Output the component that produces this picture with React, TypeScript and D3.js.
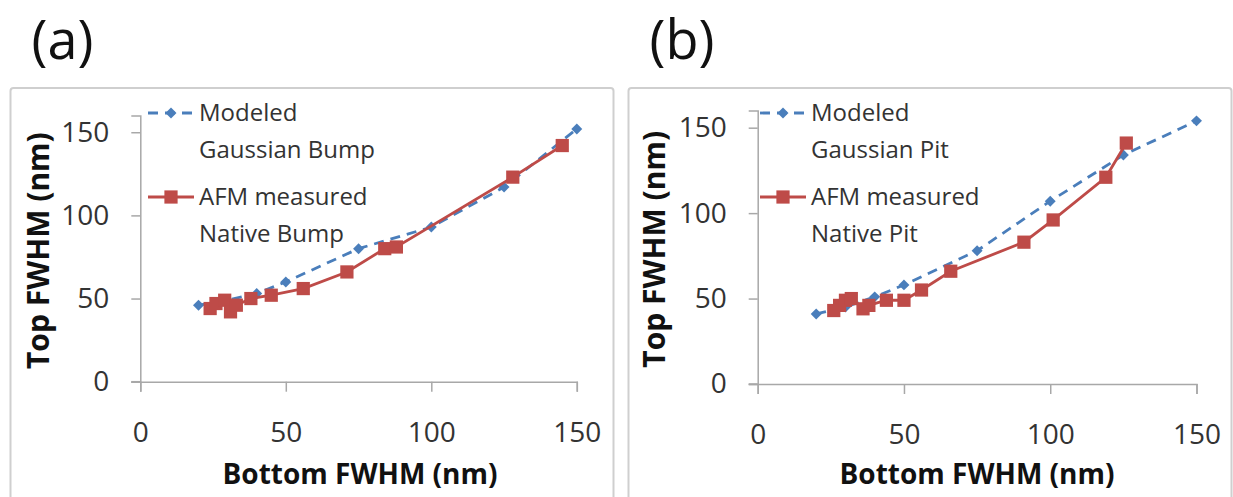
import React, { useEffect, useRef } from "react";
import * as d3 from "d3";

// panel (a): bump
const modeledBumpX = [20, 30, 40, 50, 75, 100, 125, 150];
const modeledBumpY = [46, 49, 53, 60, 80, 93, 117, 152];
const afmBumpX = [24, 26, 29, 31, 33, 38, 45, 56, 71, 84, 88, 128, 145];
const afmBumpY = [44, 47, 49, 42, 46, 50, 52, 56, 66, 80, 81, 123, 142];

// panel (b): pit
const modeledPitX = [20, 30, 40, 50, 75, 100, 125, 150];
const modeledPitY = [41, 45, 51, 58, 78, 107, 134, 154];
const afmPitX = [26, 28, 30, 32, 36, 38, 44, 50, 56, 66, 91, 101, 119, 126];
const afmPitY = [43, 46, 49, 50, 44, 46, 49, 49, 55, 66, 83, 96, 121, 141];

const tickValues = [0, 50, 100, 150];

const BLUE = "#4A7EBB";
const RED = "#BE4B48";
const AXIS = "#A8A8A8";
const FONT = "'Open Sans', sans-serif";

interface Panel {
  tag: string;
  frameX: number;
  x0: number;
  x1: number;
  y0: number;
  y1: number;
  modeled: [number, number][];
  afm: [number, number][];
  legend: string[];
  legX: number;
  xTitleX: number;
  yTitleX: number;
}

const zip = (a: number[], b: number[]) => a.map((v, i) => [v, b[i]] as [number, number]);

const panels: Panel[] = [
  {
    tag: "(a)",
    frameX: 10.5,
    x0: 140.3,
    x1: 576.8,
    y0: 381.7,
    y1: 115.6,
    modeled: zip(modeledBumpX, modeledBumpY),
    afm: zip(afmBumpX, afmBumpY),
    legend: ["Modeled", "Gaussian Bump", "AFM measured", "Native Bump"],
    legX: 148,
    xTitleX: 360,
    yTitleX: 49,
  },
  {
    tag: "(b)",
    frameX: 628.5,
    x0: 757.7,
    x1: 1196.5,
    y0: 384,
    y1: 110.6,
    modeled: zip(modeledPitX, modeledPitY),
    afm: zip(afmPitX, afmPitY),
    legend: ["Modeled", "Gaussian Pit", "AFM measured", "Native Pit"],
    legX: 760,
    xTitleX: 977,
    yTitleX: 665,
  },
];

const App: React.FC = () => {
  const ref = useRef<SVGSVGElement>(null);

  useEffect(() => {
    const svg = d3.select(ref.current);
    svg.selectAll("*").remove();

    svg.append("rect").attr("width", 1233).attr("height", 497).attr("fill", "#fff");

    panels.forEach((p) => {
      const x = d3.scaleLinear().domain([0, 150]).range([p.x0, p.x1]);
      const y = d3.scaleLinear().domain([0, 160]).range([p.y0, p.y1]);

      // frame
      svg
        .append("rect")
        .attr("x", p.frameX)
        .attr("y", 88)
        .attr("width", 603)
        .attr("height", 430)
        .attr("rx", 3)
        .attr("fill", "none")
        .attr("stroke", "#CFCFCF")
        .attr("stroke-width", 2);

      svg
        .append("text")
        .attr("x", p.frameX + 21)
        .attr("y", 59)
        .attr("font-family", FONT)
        .attr("font-size", 54)
        .attr("fill", "#111")
        .text(p.tag);

      const g = svg.append("g");

      // y axis
      const yAxis = g
        .append("g")
        .attr("transform", `translate(${p.x0},0)`)
        .call(d3.axisLeft(y).tickValues(tickValues).tickSize(9).tickPadding(22));
      // x axis
      const xAxis = g
        .append("g")
        .attr("transform", `translate(0,${p.y0})`)
        .call(d3.axisBottom(x).tickValues(tickValues).tickSize(10).tickPadding(30));

      [yAxis, xAxis].forEach((ax) => {
        ax.select(".domain").attr("stroke", AXIS).attr("stroke-width", 1.5);
        ax.selectAll(".tick line").attr("stroke", AXIS).attr("stroke-width", 1.5);
        ax.selectAll(".tick text")
          .attr("font-family", FONT)
          .attr("font-size", 28)
          .attr("fill", "#333");
      });
      // extend x axis line to the left like the original
      g.append("line")
        .attr("x1", p.x0 - 9)
        .attr("x2", p.x0)
        .attr("y1", p.y0)
        .attr("y2", p.y0)
        .attr("stroke", AXIS)
        .attr("stroke-width", 1.5);

      // titles
      g.append("text")
        .attr("x", p.xTitleX)
        .attr("y", 484)
        .attr("text-anchor", "middle")
        .attr("font-family", FONT)
        .attr("font-weight", "bold")
        .attr("font-size", 28)
        .attr("fill", "#111")
        .text("Bottom FWHM (nm)");
      g.append("text")
        .attr("transform", `translate(${p.yTitleX},${(p.y0 + p.y1) / 2 + 2}) rotate(-90)`)
        .attr("text-anchor", "middle")
        .attr("font-family", FONT)
        .attr("font-weight", "bold")
        .attr("font-size", 30)
        .attr("fill", "#111")
        .text("Top FWHM (nm)");

      const line = d3
        .line<[number, number]>()
        .x((d) => x(d[0]))
        .y((d) => y(d[1]));

      const diamond = d3.symbol().type(d3.symbolSquare).size(60);
      const square = d3.symbol().type(d3.symbolSquare).size(175);

      // modeled
      g.append("path")
        .attr("d", line(p.modeled))
        .attr("fill", "none")
        .attr("stroke", BLUE)
        .attr("stroke-width", 2.8)
        .attr("stroke-dasharray", "10,7");
      g.selectAll(".dia")
        .data(p.modeled)
        .enter()
        .append("path")
        .attr("d", diamond)
        .attr("transform", (d) => `translate(${x(d[0])},${y(d[1])}) rotate(45)`)
        .attr("fill", BLUE);

      // measured
      g.append("path")
        .attr("d", line(p.afm))
        .attr("fill", "none")
        .attr("stroke", RED)
        .attr("stroke-width", 2.8);
      g.selectAll(".sq")
        .data(p.afm)
        .enter()
        .append("path")
        .attr("d", square)
        .attr("transform", (d) => `translate(${x(d[0])},${y(d[1])})`)
        .attr("fill", RED);

      // legend
      const lx0 = p.legX;
      const lx1 = p.legX + 46;
      const lmid = (lx0 + lx1) / 2;
      g.append("line")
        .attr("x1", lx0)
        .attr("x2", lx1)
        .attr("y1", 113)
        .attr("y2", 113)
        .attr("stroke", BLUE)
        .attr("stroke-width", 2.8)
        .attr("stroke-dasharray", "10,7");
      g.append("path")
        .attr("d", diamond)
        .attr("transform", `translate(${lmid},113) rotate(45)`)
        .attr("fill", BLUE);
      g.append("line")
        .attr("x1", lx0)
        .attr("x2", lx1)
        .attr("y1", 197)
        .attr("y2", 197)
        .attr("stroke", RED)
        .attr("stroke-width", 2.8);
      g.append("path")
        .attr("d", square)
        .attr("transform", `translate(${lmid},197)`)
        .attr("fill", RED);

      const baselines = [121, 158, 205, 242];
      p.legend.forEach((t, i) => {
        g.append("text")
          .attr("x", lx1 + 5)
          .attr("y", baselines[i])
          .attr("font-family", FONT)
          .attr("font-size", 24)
          .attr("fill", "#333")
          .text(t);
      });
    });
  }, []);

  return (
    <svg
      ref={ref}
      width={1233}
      height={497}
      style={{ position: "absolute", left: 0, top: 0, display: "block" }}
    />
  );
};

export default App;
